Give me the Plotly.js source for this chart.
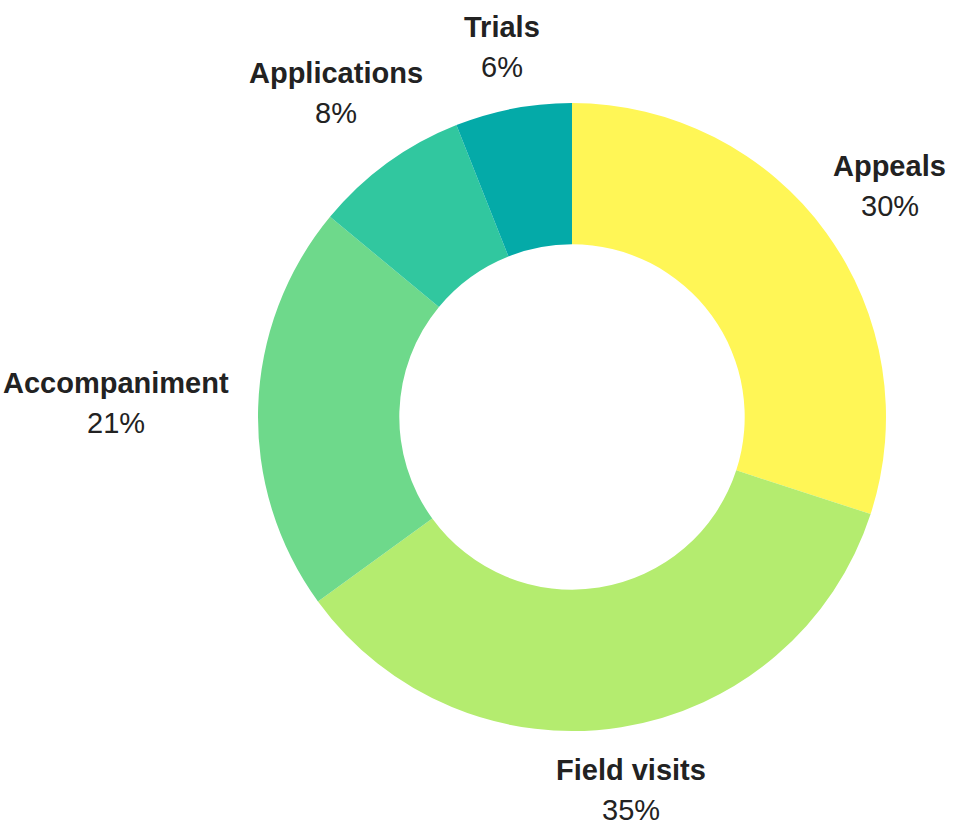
<!DOCTYPE html>
<html>
<head>
<meta charset="utf-8">
<script src="https://cdn.plot.ly/plotly-3.0.1.min.js"></script>
<style>html,body{margin:0;padding:0;background:#fff;}#chart{width:957px;height:828px;}</style>
</head>
<body>
<div id="chart"></div>
<script>
var categories = ["Appeals", "Field visits", "Accompaniment", "Applications", "Trials"];
var shares = [30, 35, 21, 8, 6];
var sliceColors = ["#FFF656", "#B4EC6F", "#6ED98B", "#31C79F", "#04AAA8"];

var W = 957, H = 828;
var margin = {l: 258, r: 71, t: 103, b: 97};
var plotW = W - margin.l - margin.r, plotH = H - margin.t - margin.b;
var cx = margin.l + plotW / 2, cy = margin.t + plotH / 2;

var fontFamily = "Liberation Sans, Arial, sans-serif";
var fontSize = 29;
var labelGap = 343;   // distance (px) from centre to the label box edge
var boxH = 66;
var lineOffset = 20;

var canvas = document.createElement("canvas");
var ctx = canvas.getContext("2d");

function toPaperX(px) { return (px - margin.l) / plotW; }
function toPaperY(py) { return (H - margin.b - py) / plotH; }

var total = shares.reduce(function (a, b) { return a + b; }, 0);
var annotations = [];
var cum = 0;
for (var i = 0; i < categories.length; i++) {
  var mid = (cum + shares[i] / 2) / total * 2 * Math.PI; // clockwise from 12 o'clock
  cum += shares[i];
  var ux = Math.sin(mid), uy = -Math.cos(mid);
  ctx.font = "bold " + fontSize + "px 'Liberation Sans'";
  var wName = ctx.measureText(categories[i]).width;
  ctx.font = fontSize + "px 'Liberation Sans'";
  var wPct = ctx.measureText(shares[i] + "%").width;
  var w = Math.max(wName, wPct);
  var half = Math.sqrt(Math.pow(ux * w / 2, 2) + Math.pow(uy * boxH / 2, 2));
  var px = cx + (labelGap + half) * ux;
  var py = cy + (labelGap + half) * uy;
  annotations.push({
    xref: "paper", yref: "paper",
    x: toPaperX(px), y: toPaperY(py - lineOffset),
    xanchor: "center", yanchor: "middle",
    text: "<b>" + categories[i] + "</b>",
    showarrow: false,
    font: {family: fontFamily, size: fontSize, color: "#222222"}
  });
  annotations.push({
    xref: "paper", yref: "paper",
    x: toPaperX(px), y: toPaperY(py + lineOffset),
    xanchor: "center", yanchor: "middle",
    text: shares[i] + "%",
    showarrow: false,
    font: {family: fontFamily, size: fontSize, color: "#222222"}
  });
}

var trace = {
  type: "pie",
  labels: categories,
  values: shares,
  hole: 0.55,
  sort: false,
  direction: "clockwise",
  rotation: 0,
  marker: {colors: sliceColors, line: {width: 0}},
  textinfo: "none",
  hoverinfo: "label+percent",
  showlegend: false
};

var layout = {
  width: W, height: H,
  margin: margin,
  paper_bgcolor: "#ffffff",
  plot_bgcolor: "#ffffff",
  showlegend: false,
  annotations: annotations
};

Plotly.newPlot("chart", [trace], layout, {displayModeBar: false, staticPlot: true});
</script>
</body>
</html>
